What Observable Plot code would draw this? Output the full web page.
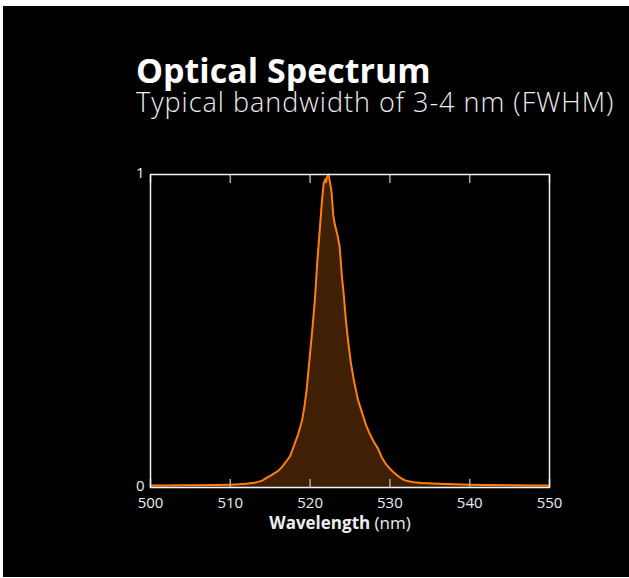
<!DOCTYPE html>
<html>
<head>
<meta charset="utf-8">
<script src="https://cdn.jsdelivr.net/npm/d3@7"></script>
<script src="https://cdn.jsdelivr.net/npm/@observablehq/plot@0.6"></script>
<style>
  html, body { margin: 0; padding: 0; background: #ffffff; width: 629px; height: 578px; overflow: hidden; }
  #bg { position: absolute; left: 3px; top: 6px; width: 626px; height: 571px; background: #000; }
  #title { position: absolute; left: 136px; top: 54px; color: #fff; font-family: "Open Sans", sans-serif; font-weight: 700; font-size: 34px; line-height: 32px; white-space: nowrap; }
  #subtitle { position: absolute; left: 136px; top: 88px; color: #ececec; font-family: "Open Sans", sans-serif; font-weight: 300; font-size: 27px; letter-spacing: 1px; line-height: 27px; white-space: nowrap; }
  #chart { position: absolute; left: 0; top: 0; }
  #xlabel { position: absolute; left: 0; width: 680px; top: 512px; text-align: center; color: #eee; font-family: "Open Sans", sans-serif; font-size: 17px; line-height: 22px; }
</style>
</head>
<body>
<div id="bg"></div>
<div id="title">Optical Spectrum</div>
<div id="subtitle">Typical bandwidth of 3-4 nm (FWHM)</div>
<div id="chart"></div>
<div id="xlabel"><b>Wavelength</b> (nm)</div>
<script>
const wavelength = [500, 502, 504, 506, 508, 510, 511, 512, 513, 513.5, 514, 514.5, 515, 515.5, 516, 516.5, 517, 517.5, 518, 518.5, 519, 519.3, 519.6, 520, 520.3, 520.6, 520.9, 521.2, 521.5, 521.7, 521.9, 522.0, 522.1, 522.3, 522.5, 522.7, 522.9, 523.1, 523.4, 523.7, 524.0, 524.2, 524.5, 524.8, 525.1, 525.5, 526, 526.5, 527, 527.5, 528, 528.5, 529, 529.5, 530, 530.5, 531, 531.5, 532, 533, 534, 536, 538, 540, 542, 545, 548, 550];
const intensity = [0.006, 0.006, 0.007, 0.007, 0.008, 0.009, 0.010, 0.012, 0.015, 0.018, 0.022, 0.030, 0.037, 0.045, 0.053, 0.066, 0.083, 0.100, 0.135, 0.17, 0.215, 0.26, 0.32, 0.43, 0.51, 0.60, 0.72, 0.82, 0.92, 0.97, 0.985, 0.975, 0.99, 1.0, 0.975, 0.94, 0.87, 0.84, 0.81, 0.77, 0.67, 0.62, 0.53, 0.46, 0.40, 0.34, 0.28, 0.24, 0.20, 0.17, 0.145, 0.125, 0.095, 0.075, 0.06, 0.048, 0.037, 0.028, 0.022, 0.017, 0.014, 0.012, 0.010, 0.009, 0.008, 0.007, 0.006, 0.006];
const xTicks = [500, 510, 520, 530, 540, 550];
const yTicks = [0, 1];

const data = wavelength.map((w, i) => ({w, v: intensity[i]}));
const orange = "#ff7f0e";

const plot = Plot.plot({
  width: 629,
  height: 578,
  marginLeft: 150,
  marginRight: 80,
  marginTop: 174,
  marginBottom: 91,
  style: {background: "transparent", color: "#eee", fontFamily: "Open Sans, sans-serif", fontSize: "15px", overflow: "visible"},
  x: {domain: [500, 550]},
  y: {domain: [0, 1]},
  marks: [
    Plot.areaY(data, {x: "w", y: "v", fill: orange, fillOpacity: 0.25}),
    Plot.lineY(data, {x: "w", y: "v", stroke: orange, strokeWidth: 2}),
    Plot.axisX({anchor: "bottom", ticks: xTicks, tickSize: 0, tickPadding: 10, label: null, fill: "#eee", fontSize: 15}),
    Plot.axisX({anchor: "bottom", ticks: xTicks, tickSize: -8, tickFormat: () => "", label: null, stroke: "#aaa", strokeWidth: 1.5}),
    Plot.axisX({anchor: "top", ticks: xTicks, tickSize: -8, tickFormat: () => "", label: null, stroke: "#aaa", strokeWidth: 1.5}),
    Plot.axisY({anchor: "left", ticks: yTicks, tickFormat: d3.format("d"), tickSize: 0, tickPadding: 6, dy: -1, label: null, fill: "#eee", fontSize: 15}),
    Plot.frame({stroke: "#f2f2f2", strokeWidth: 1.5})
  ]
});
document.getElementById("chart").appendChild(plot);
</script>
</body>
</html>
